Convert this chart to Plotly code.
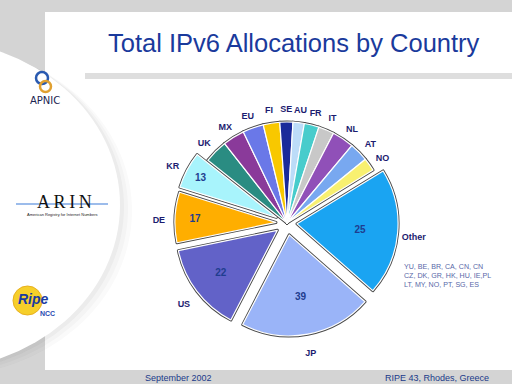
import numpy as np
import plotly.graph_objects as go

# ---- data ----
countries = ["UK", "MX", "EU", "FI", "SE", "AU", "FR", "IT", "NL", "AT", "NO",
             "Other", "JP", "US", "DE", "KR"]
slice_size = [13.5, 12.5, 12.0, 9.5, 7.5, 6.5, 8.5, 9.0, 12.5, 11.0, 7.5,
              73.0, 76.0, 51.0, 29.0, 21.0]
# numbers printed inside the slices
shown_numbers = ["", "", "", "", "", "", "", "", "", "", "",
                 "25", "39", "22", "17", "13"]
slice_colors = ["#2a8c82", "#8a3a9a", "#6a78e8", "#f8c800", "#1a2a9a", "#bcdcf8",
                "#48cccc", "#c8c8c8", "#9050b8", "#78a8f0", "#f8f070",
                "#1aa4f2", "#9ab4f8", "#6262c8", "#ffae00", "#a8f4fc"]
pulls = [0, 0, 0, 0, 0, 0, 0, 0, 0, 0, 0, 0.10, 0.12, 0.12, 0.11, 0.12]

other_list = ["YU, BE, BR, CA, CN, CN", "CZ, DK, GR, HK, HU, IE,PL",
              "LT, MY, NO, PT, SG, ES"]
title_text = "Total IPv6 Allocations by Country"
footer_left = "September 2002"
footer_right = "RIPE 43, Rhodes, Greece"

W, H = 512, 384
def px(x): return x / W
def py(y): return 1 - y / H

# pie geometry (pixels): centre and radius
cx, cy, r = 287, 223, 101
start_angle = 308.4
half = r * (1 + max(pulls))
dom_x = [px(cx - half), px(cx + half)]
dom_y = [py(cy + half), py(cy - half)]

navy = "#1c1c70"
fig = go.Figure()

# two identical pies: the lower one gives dark outlines, the upper one white seams
# and carries the numbers printed inside the big slices
for line_col, line_w, show_txt in [("#4a4a4a", 3.0, False), ("#ffffff", 1.2, True)]:
    fig.add_trace(go.Pie(
        labels=countries, values=slice_size, sort=False, direction="clockwise",
        rotation=start_angle, pull=pulls, text=shown_numbers,
        marker=dict(colors=slice_colors, line=dict(color=line_col, width=line_w)),
        textinfo="text" if show_txt else "none",
        texttemplate="<b>%{text}</b>" if show_txt else None,
        textposition="inside", insidetextorientation="horizontal",
        insidetextfont=dict(family="Liberation Sans, Arial", size=10,
                            color="#1f3d8f"),
        domain=dict(x=dom_x, y=dom_y), hoverinfo="skip", showlegend=False))

# country names around the pie, on a polar axis sharing the pie's centre
vals = np.array(slice_size)
mid_theta = (start_angle + np.cumsum(vals) - vals / 2) % 360
name_r = [1.16 if p == 0 else 1 + p + 0.16 for p in pulls]
lcx, lcy, Hp = cx, cy + 4, 150
fig.add_trace(go.Scatterpolar(
    r=name_r, theta=mid_theta, mode="text",
    text=[f"<b>{c}</b>" for c in countries],
    textfont=dict(family="Liberation Sans, Arial", size=9, color=navy),
    cliponaxis=False, hoverinfo="skip", showlegend=False, subplot="polar"))

shapes = []
# main white slide area
shapes.append(dict(type="rect", xref="paper", yref="paper", layer="below",
                   x0=px(45), x1=1, y0=py(370), y1=py(12),
                   fillcolor="white", line=dict(width=0)))
# grey band under the title
shapes.append(dict(type="rect", xref="paper", yref="paper", layer="below",
                   x0=px(85), x1=1, y0=py(79), y1=py(73),
                   fillcolor="#dedede", line=dict(width=0)))
# soft shadow of the left oval
for off, op in [(12, 0.025), (8, 0.03), (4, 0.04)]:
    shapes.append(dict(type="circle", xref="paper", yref="paper", layer="below",
                       x0=px(-260 + off), x1=px(120 + off),
                       y0=py(370 + off * 0.5), y1=py(40 + off * 0.5),
                       fillcolor=f"rgba(60,60,60,{op})", line=dict(width=0)))
shapes.append(dict(type="circle", xref="paper", yref="paper", layer="below",
                   x0=px(-260), x1=px(120), y0=py(370), y1=py(40),
                   fillcolor="white", line=dict(width=0)))
# ARIN line
shapes.append(dict(type="line", xref="paper", yref="paper", layer="below",
                   x0=px(16), x1=px(108), y0=py(204), y1=py(204),
                   line=dict(color="#3a7ad8", width=1.2)))
# APNIC swirl
shapes.append(dict(type="circle", xref="paper", yref="paper", layer="below",
                   x0=px(36), x1=px(48), y0=py(84), y1=py(72),
                   fillcolor="rgba(0,0,0,0)", line=dict(color="#2a5ab0", width=2.5)))
shapes.append(dict(type="circle", xref="paper", yref="paper", layer="below",
                   x0=px(40), x1=px(51), y0=py(92), y1=py(81),
                   fillcolor="rgba(0,0,0,0)", line=dict(color="#e0a030", width=2.5)))
# RIPE ball
shapes.append(dict(type="circle", xref="paper", yref="paper", layer="below",
                   x0=px(13), x1=px(42), y0=py(315), y1=py(286),
                   fillcolor="#f6cf2a", line=dict(color="#e8b020", width=1)))

ann = []
def text(t, x, y, size, color, family="Liberation Sans, Arial", xanchor="center",
         align="center"):
    ann.append(dict(text=t, x=px(x), y=py(y), xref="paper", yref="paper",
                    showarrow=False, xanchor=xanchor, yanchor="middle", align=align,
                    font=dict(family=family, size=size, color=color)))

text(title_text, 294, 43, 25.5, "#1a3a9c")
text(footer_left, 178, 378, 9, "#1a3a8a")
text(footer_right, 437, 378, 9, "#1a3a8a")
text("<br>".join(other_list), 402, 276, 7.1, "#5868a8", xanchor="left", align="left")
text("APNIC", 45, 100, 10, "#1a2450", family="DejaVu Sans")
text("A\u2009R\u2009I\u2009N", 64, 202, 18, "#111111", family="Liberation Serif")
text("American Registry for Internet Numbers", 62, 214, 4, "#222222")
text("<b><i>Ripe</i></b>", 33, 299, 14, "#1a3aa0")
text("<b>NCC</b>", 47, 313, 7, "#2a4ab0")

hidden_axis = dict(visible=False, showgrid=False, showline=False,
                   showticklabels=False, ticks="")
fig.update_layout(
    width=W, height=H, margin=dict(l=0, r=0, t=0, b=0),
    paper_bgcolor="#d4d4d4", plot_bgcolor="#d4d4d4",
    polar=dict(domain=dict(x=[px(lcx - Hp), px(lcx + Hp)],
                           y=[py(lcy + Hp), py(lcy - Hp)]),
               bgcolor="rgba(0,0,0,0)",
               radialaxis=dict(range=[0, Hp / r], **hidden_axis),
               angularaxis=dict(rotation=90, direction="clockwise", **hidden_axis)),
    shapes=shapes, annotations=ann)

fig.write_html("out.html", config={"displayModeBar": False},
               post_script="document.body.style.margin='0';"
                           "document.body.style.overflow='hidden';")
